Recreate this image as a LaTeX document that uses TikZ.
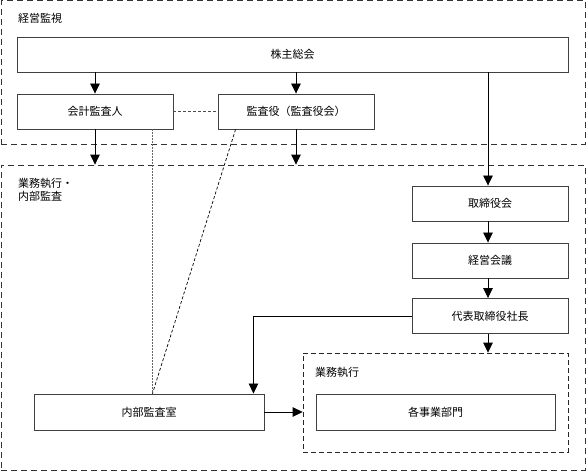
\documentclass[tikz,border=0pt]{standalone}
\usepackage{fontspec}
\setmainfont{Noto Sans CJK JP}
\usetikzlibrary{arrows.meta,calc}
\begin{document}
\begin{tikzpicture}[x=1pt,y=-1pt,
  font=\fontsize{11}{13}\selectfont,
  box/.style={draw=black!75,line width=0.9pt,fill=white,inner sep=0pt},
  zone/.style={draw=black!80,line width=0.8pt,dash pattern=on 6pt off 4pt,inner sep=0pt},
  arr/.style={line width=0.8pt,-{Triangle[length=10pt,width=9.5pt]}},
  ln/.style={line width=0.8pt},
  dotln/.style={line width=0.8pt,draw=black!60,dash pattern=on 1.5pt off 1.5pt},
  dashln/.style={line width=0.7pt,dash pattern=on 3pt off 2pt},
  lbl/.style={anchor=west,inner sep=0pt,align=left}]
\useasboundingbox (0,0) rectangle (586,472);
% zones
\node[zone,minimum width=584pt,minimum height=143.5pt] (z1) at (293,72.5) {};
\node[zone,minimum width=584pt,minimum height=305pt] (z2) at (293,317.5) {};
\node[lbl] (z1l) at (18,18) {経営監視};
\node[lbl] (z2l) at (18,190) {業務執行・\\内部監査};
% top boxes
\node[box,minimum width=551pt,minimum height=35pt] (kabu) at (292.5,54.5) {株主総会};
\node[box,minimum width=156pt,minimum height=35pt] (kaikei) at (95,111.5) {会計監査人};
\node[box,minimum width=156pt,minimum height=35pt] (kansa) at (296,111.5) {監査役（監査役会）};
% right column
\node[box,minimum width=156pt,minimum height=35pt] (tori) at (490,203.5) {取締役会};
\node[box,minimum width=156pt,minimum height=35pt] (keiei) at (490,260.5) {経営会議};
\node[box,minimum width=156pt,minimum height=35pt] (shacho) at (490,316) {代表取締役社長};
% inner zone
\node[zone,draw=black!85,line width=0.7pt,dash pattern=on 5pt off 3pt,minimum width=265pt,minimum height=99pt] (gyomu) at (435.5,402.5) {};
\node[lbl] (gyomul) at (315,372) {業務執行};
\node[box,minimum width=239pt,minimum height=36pt] (kakubu) at (435.5,412) {各事業部門};
\node[box,minimum width=230pt,minimum height=36pt] (naibu) at (149,412) {内部監査室};
% connectors
\draw[arr] (kabu.south -| kaikei.north) -- (kaikei.north);
\draw[arr] (kabu.south -| kansa.north) -- (kansa.north);
\draw[arr] (kaikei.south) -- (kaikei.south |- z2.north);
\draw[arr] (kansa.south) -- (kansa.south |- z2.north);
\draw[dashln,draw=black!70] (kaikei.east) -- (kansa.west);
\draw[arr] (kabu.south -| 488,0) -- (tori.north -| 488,0);
\draw[arr] (tori.south -| 488,0) -- (keiei.north -| 488,0);
\draw[arr] (keiei.south -| 488,0) -- (shacho.north -| 488,0);
\draw[arr] (shacho.south -| 488,0) -- (gyomu.north -| 488,0);
\coordinate (bend) at ([xshift=-11pt]naibu.north east);
\draw[arr] (shacho.west) -| (bend);
\draw[arr] (naibu.east) -- (naibu.east -| gyomu.west);
\coordinate (kaiA) at ([xshift=-21pt]kaikei.south east);
\coordinate (naiA) at (kaiA |- naibu.north);
\coordinate (kanA) at ([xshift=18pt]kansa.south west);
\draw[dotln] (kaiA) -- (naiA);
\draw[dashln] (kanA) -- (naiA);
\end{tikzpicture}
\end{document}
